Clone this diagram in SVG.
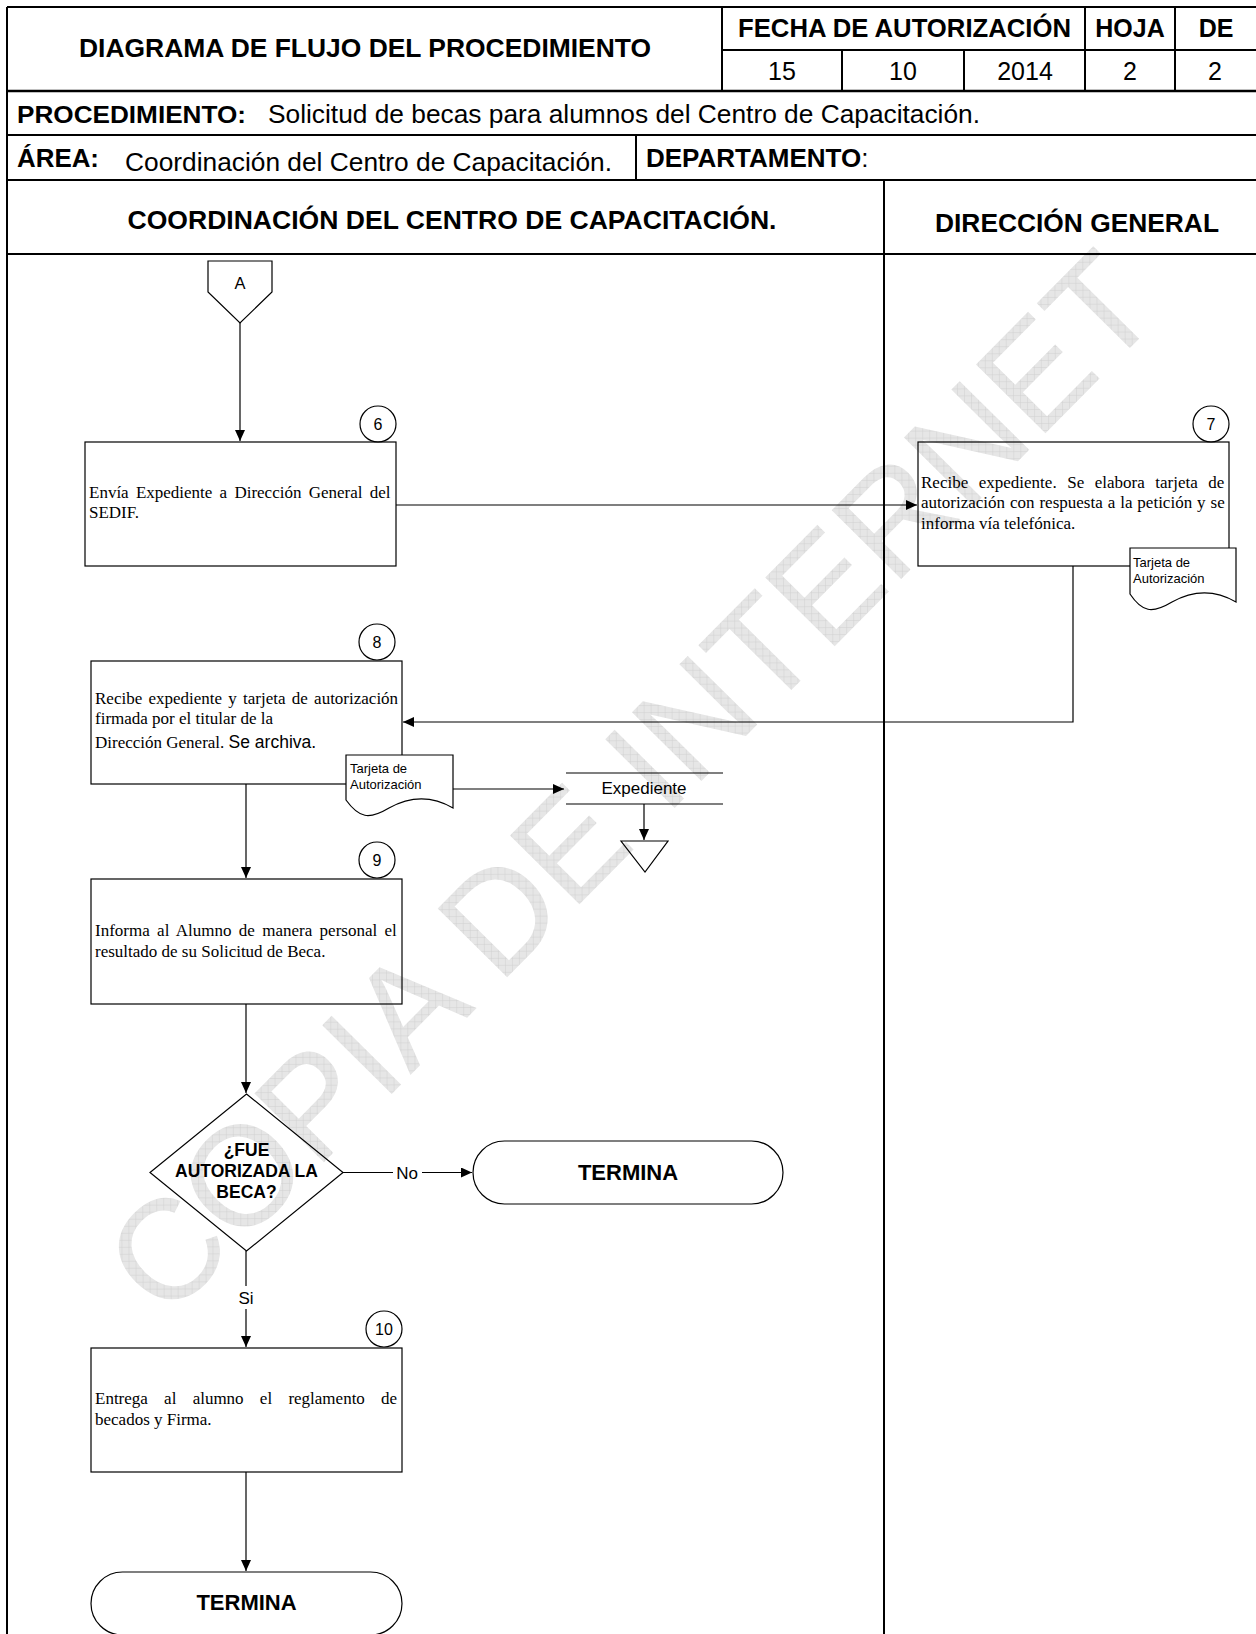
<svg xmlns="http://www.w3.org/2000/svg" width="1256" height="1634" viewBox="0 0 1256 1634">
<style>
.tb{stroke:#000;stroke-width:2;fill:none}
.sh{stroke:#000;stroke-width:1.2;fill:none}
.dc{stroke:#000;stroke-width:1.2;fill:#fff}
.cn{stroke:#000;stroke-width:1.2;fill:none}
.hb{font-family:"Liberation Sans",Arial,sans-serif;font-weight:bold;fill:#000}
.hr{font-family:"Liberation Sans",Arial,sans-serif;fill:#000}
.bx{font-family:"Liberation Serif","Times New Roman",serif;font-size:17px;fill:#000}
.sm{font-family:"Liberation Sans",Arial,sans-serif;font-size:13px;fill:#000}
.wm{font-family:"Liberation Sans",Arial,sans-serif;font-size:142px;fill:url(#hatch)}
</style>
<defs>
<pattern id="hatch" width="7" height="7" patternUnits="userSpaceOnUse" patternTransform="rotate(45)">
<rect width="7" height="7" fill="#e6e6e6"/>
<path d="M0,0H7M0,0V7" stroke="#d0d0d0" stroke-width="1"/>
</pattern>
<marker id="ar" markerWidth="12" markerHeight="10" refX="11" refY="5" orient="auto" markerUnits="userSpaceOnUse">
<path d="M0,0L11,5L0,10Z" fill="#000"/>
</marker>
</defs>
<rect width="1256" height="1634" fill="#fff"/>

<g id="watermark">
<text class="wm" x="166" y="1322" transform="rotate(-45.3 166 1322)">COPIA DE INTERNET</text>
</g>

<g id="header">
<path class="tb" d="M7,7H1256M7,7V1634M722,7V91M722,50H1256M842,50V91M964,50V91M1085,7V91M1175,7V91M7,135H1256M7,180H1256M636,135V180M884,180V1634M7,254H1256"/>
<path d="M7,91H1256" stroke="#000" stroke-width="2.6"/>
<text class="hb" x="79" y="57" font-size="25" textLength="572" lengthAdjust="spacingAndGlyphs">DIAGRAMA DE FLUJO DEL PROCEDIMIENTO</text>
<text class="hb" x="738" y="37" font-size="25" textLength="333" lengthAdjust="spacingAndGlyphs">FECHA DE AUTORIZACIÓN</text>
<text class="hb" x="1130" y="37" font-size="25" text-anchor="middle">HOJA</text>
<text class="hb" x="1216" y="37" font-size="25" text-anchor="middle">DE</text>
<text class="hr" x="782" y="80" font-size="25" text-anchor="middle">15</text>
<text class="hr" x="903" y="80" font-size="25" text-anchor="middle">10</text>
<text class="hr" x="1025" y="80" font-size="25" text-anchor="middle">2014</text>
<text class="hr" x="1130" y="80" font-size="25" text-anchor="middle">2</text>
<text class="hr" x="1215" y="80" font-size="25" text-anchor="middle">2</text>
<text class="hb" x="17" y="123" font-size="24" textLength="229" lengthAdjust="spacingAndGlyphs">PROCEDIMIENTO:</text>
<text class="hr" x="268" y="123" font-size="26" textLength="712" lengthAdjust="spacingAndGlyphs">Solicitud de becas para alumnos del Centro de Capacitación.</text>
<text class="hb" x="17" y="167" font-size="25" textLength="82" lengthAdjust="spacingAndGlyphs">ÁREA:</text>
<text class="hr" x="125" y="171" font-size="26" textLength="487" lengthAdjust="spacingAndGlyphs">Coordinación del Centro de Capacitación.</text>
<text class="hb" x="646" y="167" font-size="26">DEPARTAMENTO<tspan font-weight="normal">:</tspan></text>
<text class="hb" x="452" y="229" font-size="25" text-anchor="middle" textLength="649" lengthAdjust="spacingAndGlyphs">COORDINACIÓN DEL CENTRO DE CAPACITACIÓN.</text>
<text class="hb" x="1077" y="232" font-size="25" text-anchor="middle" textLength="284" lengthAdjust="spacingAndGlyphs">DIRECCIÓN GENERAL</text>
</g>

<g id="connectors">
<path class="cn" d="M240,323V441" marker-end="url(#ar)"/>
<path class="cn" d="M396,505H917" marker-end="url(#ar)"/>
<path class="cn" d="M1073,566V722H403" marker-end="url(#ar)"/>
<path class="cn" d="M453,789H564" marker-end="url(#ar)"/>
<path class="cn" d="M644,804V840" marker-end="url(#ar)"/>
<path class="cn" d="M246,784V878" marker-end="url(#ar)"/>
<path class="cn" d="M246,1004V1093" marker-end="url(#ar)"/>
<path class="cn" d="M343,1172.5H393M422,1172.5H472" marker-end="url(#ar)"/>
<text class="hr" x="407" y="1178.5" font-size="17" text-anchor="middle">No</text>
<path class="cn" d="M246,1251V1286M246,1309V1347" marker-end="url(#ar)"/>
<text class="hr" x="246" y="1304" font-size="17" text-anchor="middle">Si</text>
<path class="cn" d="M246,1472V1571" marker-end="url(#ar)"/>
</g>

<g id="nodeA">
<path class="sh" d="M208,261H272V292L240,323L208,292Z"/>
<text class="hr" x="240" y="289" font-size="16.5" text-anchor="middle">A</text>
</g>

<g id="step6">
<rect class="sh" x="85" y="442" width="311" height="124"/>
<circle class="sh" cx="378" cy="424" r="18"/>
<text class="hr" x="378" y="430" font-size="16" text-anchor="middle">6</text>
<text class="bx" x="89" y="498" word-spacing="3">Envía Expediente a Dirección General del</text>
<text class="bx" x="89" y="518">SEDIF.</text>
</g>

<g id="step7">
<rect class="sh" x="918" y="442" width="311" height="124"/>
<circle class="sh" cx="1211" cy="424" r="18"/>
<text class="hr" x="1211" y="430" font-size="16" text-anchor="middle">7</text>
<text class="bx" x="921" y="488" word-spacing="6.3">Recibe expediente. Se elabora tarjeta de</text>
<text class="bx" x="921" y="508" word-spacing="0.7">autorización con respuesta a la petición y se</text>
<text class="bx" x="921" y="529">informa vía telefónica.</text>
</g>

<g id="doc7">
<path class="dc" d="M1130,548H1236V602C1212,588 1190,592 1172,602C1152,614 1142,612 1130,594Z"/>
<text class="sm" x="1133" y="567">Tarjeta de</text>
<text class="sm" x="1133" y="583">Autorización</text>
</g>

<g id="step8">
<rect class="sh" x="91" y="661" width="311" height="123"/>
<circle class="sh" cx="377" cy="642" r="18"/>
<text class="hr" x="377" y="648" font-size="16" text-anchor="middle">8</text>
<text class="bx" x="95" y="704" word-spacing="2">Recibe expediente y tarjeta de autorización</text>
<text class="bx" x="95" y="724">firmada por el titular de la</text>
<text class="bx" x="95" y="748">Dirección General. <tspan font-family="Liberation Sans, Arial, sans-serif" font-size="17.5">Se archiva.</tspan></text>
</g>

<g id="doc8">
<path class="dc" d="M346,755H453V808C429,794 407,798 389,808C369,820 359,818 346,800Z"/>
<text class="sm" x="350" y="773">Tarjeta de</text>
<text class="sm" x="350" y="789">Autorización</text>
</g>

<g id="expediente">
<path class="sh" d="M566,773H723M566,804H723"/>
<text class="hr" x="644" y="794" font-size="17" text-anchor="middle">Expediente</text>
</g>

<g id="archive">
<path class="sh" d="M621,841H668L645,872Z"/>
</g>

<g id="step9">
<rect class="sh" x="91" y="879" width="311" height="125"/>
<circle class="sh" cx="377" cy="860" r="18"/>
<text class="hr" x="377" y="866" font-size="16" text-anchor="middle">9</text>
<text class="bx" x="95" y="936" word-spacing="3.1">Informa al Alumno de manera personal el</text>
<text class="bx" x="95" y="957">resultado de su Solicitud de Beca.</text>
</g>

<g id="decision">
<path class="sh" d="M246.5,1094L343,1172.5L246.5,1251L150,1172.5Z"/>
<text class="hb" x="246.5" y="1156" font-size="17.5" text-anchor="middle">¿FUE</text>
<text class="hb" x="246.5" y="1177" font-size="17.5" text-anchor="middle">AUTORIZADA LA</text>
<text class="hb" x="246.5" y="1198" font-size="17.5" text-anchor="middle">BECA?</text>
</g>

<g id="end1">
<rect class="sh" x="473" y="1141" width="310" height="63" rx="31.5"/>
<text class="hb" x="628" y="1180" font-size="22" text-anchor="middle">TERMINA</text>
</g>

<g id="step10">
<rect class="sh" x="91" y="1348" width="311" height="124"/>
<circle class="sh" cx="384" cy="1329" r="18"/>
<text class="hr" x="384" y="1335" font-size="16" text-anchor="middle">10</text>
<text class="bx" x="95" y="1404" word-spacing="12">Entrega al alumno el reglamento de</text>
<text class="bx" x="95" y="1425">becados y Firma.</text>
</g>

<g id="end2">
<rect class="sh" x="91" y="1572" width="311" height="63" rx="31.5"/>
<text class="hb" x="246.5" y="1610" font-size="22" text-anchor="middle">TERMINA</text>
</g>
</svg>
